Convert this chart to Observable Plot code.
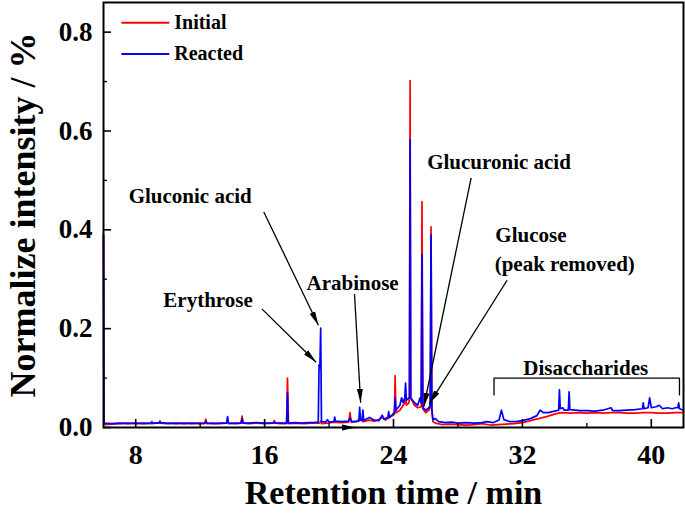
<!DOCTYPE html>
<html>
<head>
<meta charset="utf-8">
<script src="https://cdn.jsdelivr.net/npm/d3@7"></script>
<script src="https://cdn.jsdelivr.net/npm/@observablehq/plot@0.6"></script>
<style>
  body { margin: 0; background: #fff; }
  svg { font-family: "Liberation Serif", "Times New Roman", serif; }
</style>
</head>
<body>
<div id="chart"></div>
<script>
// ---- Data (retention time in min, normalized intensity in %) ----
const initialTime = [6.0, 6.03, 6.5, 7.0, 7.5, 8.0, 8.5, 9.0, 9.5, 10.0, 10.5, 11.0, 11.5, 12.0, 12.28, 12.35, 12.42, 12.8, 13.2, 13.64,
  13.7, 13.76, 14.1, 14.53, 14.6, 14.67, 15.0, 15.5, 16.0, 16.53, 16.6, 16.67, 17.0, 17.36, 17.42, 17.48, 17.9, 18.4, 18.9, 19.42,
  19.48, 19.54, 19.9, 20.3, 20.7, 21.22, 21.3, 21.38, 21.7, 21.9, 22.1, 22.5, 22.8, 23.1, 23.3, 23.5, 23.8, 24.0, 24.06, 24.1,
  24.15, 24.4, 24.6, 24.7, 24.75, 24.8, 24.95, 24.99, 25.03, 25.07, 25.3, 25.5, 25.72, 25.77, 25.82, 26.0, 26.2, 26.28, 26.33, 26.38,
  26.45, 26.6, 27.0, 27.5, 28.0, 28.5, 29.0, 29.5, 30.0, 30.5, 31.0, 31.5, 32.0, 32.5, 33.0, 33.5, 34.0, 34.4, 35.0, 35.5,
  36.0, 36.5, 37.0, 37.5, 38.0, 38.5, 39.0, 39.5, 40.0, 40.5, 41.0, 41.5, 42.0];
const initialValue = [0.39, 0.006, 0.007, 0.008, 0.009, 0.008, 0.009, 0.008, 0.010, 0.009, 0.008, 0.009, 0.008, 0.009, 0.008, 0.017, 0.008, 0.009, 0.008, 0.009,
  0.013, 0.008, 0.009, 0.009, 0.023, 0.009, 0.008, 0.009, 0.008, 0.009, 0.014, 0.009, 0.008, 0.008, 0.100, 0.008, 0.009, 0.008, 0.009, 0.009,
  0.013, 0.008, 0.009, 0.011, 0.010, 0.011, 0.030, 0.011, 0.012, 0.018, 0.012, 0.015, 0.013, 0.016, 0.021, 0.015, 0.022, 0.025, 0.028, 0.105,
  0.030, 0.035, 0.045, 0.050, 0.065, 0.045, 0.050, 0.060, 0.702, 0.060, 0.045, 0.040, 0.042, 0.457, 0.038, 0.030, 0.035, 0.040, 0.406, 0.035,
  0.012, 0.009, 0.006, 0.007, 0.006, 0.005, 0.006, 0.008, 0.005, 0.006, 0.007, 0.008, 0.010, 0.014, 0.018, 0.022, 0.027, 0.030, 0.029, 0.030,
  0.029, 0.030, 0.029, 0.030, 0.030, 0.029, 0.029, 0.030, 0.030, 0.029, 0.029, 0.030, 0.030];

const reactedTime = [6.0, 6.03, 6.5, 7.0, 7.5, 8.0, 8.5, 8.95, 9.0, 9.05, 9.45, 9.5, 9.55, 10.0, 10.5, 11.0, 11.5, 12.0, 12.3, 12.35,
  12.4, 12.9, 13.3, 13.64, 13.7, 13.76, 14.2, 14.54, 14.6, 14.66, 15.0, 15.5, 16.0, 16.55, 16.6, 16.65, 17.0, 17.37, 17.42, 17.47,
  17.9, 18.3, 18.7, 19.0, 19.33, 19.38, 19.43, 19.48, 19.53, 19.8, 19.9, 20.0, 20.3, 20.35, 20.4, 20.8, 21.2, 21.3, 21.4, 21.85,
  21.9, 21.95, 22.05, 22.1, 22.15, 22.5, 22.8, 23.1, 23.3, 23.4, 23.65, 23.7, 23.75, 24.05, 24.1, 24.15, 24.4, 24.5, 24.6, 24.7,
  24.75, 24.8, 24.95, 24.99, 25.03, 25.07, 25.3, 25.5, 25.65, 25.72, 25.77, 25.82, 26.0, 26.2, 26.28, 26.33, 26.38, 26.45, 26.6, 26.8,
  27.2, 27.6, 28.0, 28.5, 29.0, 29.5, 29.8, 30.2, 30.55, 30.7, 30.85, 31.2, 31.6, 32.0, 32.5, 32.9, 33.1, 33.3, 33.6, 34.0,
  34.25, 34.3, 34.35, 34.5, 34.6, 34.85, 34.9, 34.95, 35.3, 35.6, 36.0, 36.5, 37.0, 37.5, 37.6, 38.0, 38.5, 39.0, 39.45, 39.5,
  39.55, 39.8, 39.9, 40.0, 40.3, 40.5, 40.7, 41.0, 41.3, 41.5, 41.65, 41.7, 41.75, 42.0];
const reactedValue = [0.39, 0.009, 0.008, 0.009, 0.008, 0.009, 0.008, 0.009, 0.012, 0.009, 0.009, 0.013, 0.009, 0.008, 0.009, 0.008, 0.009, 0.008, 0.009, 0.012,
  0.009, 0.008, 0.009, 0.009, 0.022, 0.009, 0.008, 0.009, 0.018, 0.009, 0.009, 0.010, 0.009, 0.009, 0.011, 0.009, 0.009, 0.009, 0.070, 0.009,
  0.010, 0.009, 0.010, 0.010, 0.011, 0.127, 0.120, 0.201, 0.012, 0.011, 0.016, 0.011, 0.012, 0.021, 0.013, 0.012, 0.013, 0.019, 0.012, 0.013,
  0.041, 0.015, 0.015, 0.035, 0.014, 0.020, 0.015, 0.014, 0.025, 0.017, 0.020, 0.032, 0.020, 0.030, 0.060, 0.035, 0.045, 0.060, 0.050, 0.060,
  0.090, 0.055, 0.060, 0.062, 0.582, 0.060, 0.050, 0.045, 0.060, 0.050, 0.350, 0.040, 0.035, 0.040, 0.045, 0.390, 0.035, 0.016, 0.018, 0.012,
  0.010, 0.011, 0.009, 0.010, 0.009, 0.010, 0.012, 0.010, 0.015, 0.035, 0.016, 0.012, 0.012, 0.014, 0.018, 0.024, 0.035, 0.030, 0.030, 0.033,
  0.035, 0.076, 0.038, 0.040, 0.035, 0.035, 0.072, 0.036, 0.035, 0.034, 0.034, 0.033, 0.035, 0.040, 0.034, 0.034, 0.035, 0.036, 0.038, 0.050,
  0.038, 0.040, 0.060, 0.040, 0.042, 0.045, 0.038, 0.040, 0.038, 0.040, 0.040, 0.050, 0.038, 0.035];

const seriesNames = ["Initial", "Reacted"];
const seriesColors = ["#ff0000", "#0000ff"];

const xMajorTicks = [8, 16, 24, 32, 40];
const xMinorTicks = [12, 20, 28, 36];
const yMajorTicks = [0.0, 0.2, 0.4, 0.6, 0.8];
const yMinorTicks = [0.1, 0.3, 0.5, 0.7];

const xTitle = "Retention time / min";
const yTitle = "Normalize intensity / %";

// Annotations (data coordinates)
const labelText = ["Gluconic acid", "Erythrose", "Arabinose", "Glucuronic acid", "Glucose", "(peak removed)", "Disaccharides"];
const labelX = [11.38, 12.49, 21.46, 30.55, 32.53, 34.63, 35.93];
const labelY = [0.467, 0.258, 0.292, 0.537, 0.388, 0.331, 0.12];

const arrowX1 = [15.95, 15.83, 21.58, 28.82, 31.05, 20.75];
const arrowY1 = [0.436, 0.240, 0.270, 0.505, 0.298, 0.0];
const arrowX2 = [19.34, 19.2, 21.96, 25.88, 26.22, 21.65];
const arrowY2 = [0.207, 0.132, 0.050, 0.042, 0.048, 0.0];

const bracketX = [30.24, 30.24, 41.75, 41.75];
const bracketY = [0.066, 0.100, 0.100, 0.066];

// ---- Build tables ----
const rows = [];
initialTime.forEach((t, i) => rows.push({t, v: initialValue[i], s: seriesNames[0]}));
reactedTime.forEach((t, i) => rows.push({t, v: reactedValue[i], s: seriesNames[1]}));
const labels = labelText.map((text, i) => ({text, x: labelX[i], y: labelY[i]}));
const arrows = arrowX1.map((x1, i) => ({x1, y1: arrowY1[i], x2: arrowX2[i], y2: arrowY2[i]}));
const bracket = bracketX.map((x, i) => ({x, y: bracketY[i]}));
const legend = seriesNames.map((name, i) => ({name, color: seriesColors[i], y: [0.819, 0.756][i]}));

const font = {fontFamily: "Liberation Serif", fontWeight: "bold"};

function filledArrow(color) {
  const m = d3.create("svg:marker")
    .attr("viewBox", "-7 -4 14 8")
    .attr("markerWidth", 14)
    .attr("markerHeight", 8)
    .attr("refX", 7)
    .attr("refY", 0)
    .attr("orient", "auto")
    .attr("markerUnits", "userSpaceOnUse")
    .attr("fill", color)
    .attr("stroke", "none");
  m.append("path").attr("d", "M-7,-3L7,0L-7,3Z");
  return m.node();
}

const chart = Plot.plot({
  width: 685,
  height: 513,
  marginLeft: 103,
  marginRight: 2,
  marginTop: 2,
  marginBottom: 86,
  style: {background: "#fff", color: "#000", overflow: "visible"},
  x: {domain: [6, 42]},
  y: {domain: [0, 0.86]},
  color: {domain: seriesNames, range: seriesColors},
  marks: [
    Plot.line(rows, {x: "t", y: "v", z: "s", stroke: "s", strokeWidth: 1.7}),
    // axes: inward ticks
    Plot.axisX(xMajorTicks, {tickSize: 8, dy: -8, fill: "none", strokeWidth: 1.6, label: null}),
    Plot.axisX(xMinorTicks, {tickSize: 4, dy: -4, fill: "none", strokeWidth: 1.3, label: null}),
    Plot.axisY(yMajorTicks, {tickSize: 8, dx: 8, fill: "none", strokeWidth: 1.6, label: null}),
    Plot.axisY(yMinorTicks, {tickSize: 4, dx: 4, fill: "none", strokeWidth: 1.3, label: null}),
    Plot.axisX(xMajorTicks, {tickSize: 0, tickPadding: 17, fontSize: 28, ...font, label: null}),
    Plot.axisY(yMajorTicks, {tickSize: 0, tickPadding: 11, fontSize: 27, ...font, tickFormat: d => d.toFixed(1), label: null}),
    Plot.text([xTitle], {frameAnchor: "bottom", dy: 66, fontSize: 34, ...font, lineAnchor: "middle", textAnchor: "middle"}),
    Plot.text([yTitle], {frameAnchor: "left", dx: -80, rotate: -90, fontSize: 36, ...font, lineAnchor: "middle", textAnchor: "middle"}),
    Plot.frame({stroke: "#000", strokeWidth: 2}),
    // annotations
    Plot.link(arrows, {x1: "x1", y1: "y1", x2: "x2", y2: "y2", stroke: "#000", strokeWidth: 1.3, markerEnd: filledArrow}),
    Plot.line(bracket, {x: "x", y: "y", stroke: "#000", strokeWidth: 1.3}),
    Plot.text(labels, {x: "x", y: "y", text: "text", fontSize: 21, ...font, lineAnchor: "middle"}),
    // legend
    Plot.link(legend, {x1: 7.11, x2: 10.08, y1: "y", y2: "y", stroke: "color", strokeWidth: 2}),
    Plot.text(legend, {x: 10.39, y: "y", text: "name", textAnchor: "start", fontSize: 20, ...font, lineAnchor: "middle"})
  ]
});
document.getElementById("chart").appendChild(chart);
</script>
</body>
</html>
